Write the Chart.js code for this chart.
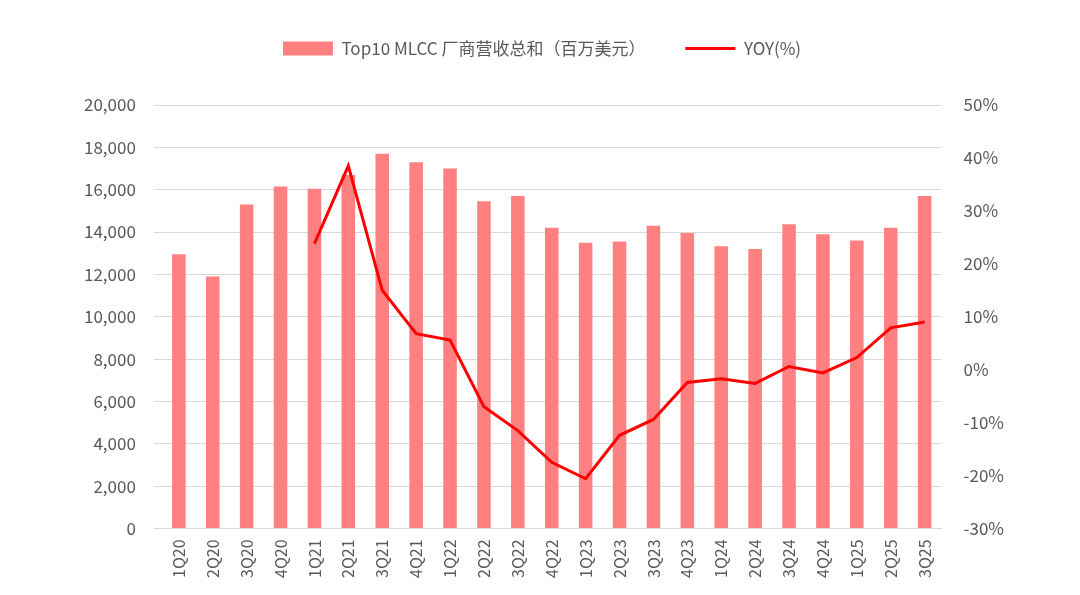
<!DOCTYPE html>
<html><head><meta charset="utf-8">
<script src="https://cdn.jsdelivr.net/npm/chart.js@4"></script>
<style>html,body{margin:0;background:#fff}#w{width:1080px;height:595px}</style>
</head><body><div id="w"><canvas id="c"></canvas></div>
<script>
const categories=["1Q20","2Q20","3Q20","4Q20","1Q21","2Q21","3Q21","4Q21","1Q22","2Q22","3Q22","4Q22","1Q23","2Q23","3Q23","4Q23","1Q24","2Q24","3Q24","4Q24","1Q25","2Q25","3Q25"];
const revenue=[12950,11900,15300,16150,16050,16700,17700,17300,17000,15450,15700,14200,13500,13550,14300,13950,13330,13200,14370,13900,13600,14200,15700];
const yoy=[null,null,null,null,23.8,38.5,15,6.8,5.6,-7,-11.5,-17.5,-20.6,-12.4,-9.4,-2.4,-1.7,-2.6,0.6,-0.6,2.3,7.9,9];
const font="'Noto Sans CJK SC','Liberation Sans',sans-serif";
Chart.defaults.font.family=font;Chart.defaults.color="#595959";
const legendGap={id:'legendGap',beforeInit(chart){const f=chart.legend.fit;chart.legend.fit=function(){f.bind(chart.legend)();this.height+=38;};}};
new Chart(document.getElementById('c'),{
 plugins:[legendGap],
 data:{labels:categories,datasets:[
  {type:'line',label:'YOY(%)',data:yoy,yAxisID:'y1',borderColor:'#ff0000',backgroundColor:'#ff0000',borderWidth:3,pointRadius:0,pointStyle:'line',tension:0,order:0},
  {type:'bar',label:'Top10 MLCC 厂商营收总和（百万美元）',data:revenue,yAxisID:'y',backgroundColor:'#ff8080',pointStyle:'rect',barPercentage:0.4,categoryPercentage:1,order:1}
 ]},
 options:{responsive:true,maintainAspectRatio:false,animation:false,
  layout:{padding:{left:66,right:62,top:0,bottom:14}},
  plugins:{legend:{reverse:true,labels:{font:{size:17},usePointStyle:true,pointStyleWidth:50,boxHeight:14,padding:40,color:'#595959'}},tooltip:{enabled:false}},
  scales:{
   x:{grid:{display:false},border:{display:true,color:'#d9d9d9'},ticks:{maxRotation:90,minRotation:90,font:{size:16},color:'#595959'}},
   y:{min:0,max:20000,ticks:{stepSize:2000,font:{size:17},padding:18,callback:v=>v.toLocaleString('en-US')},grid:{color:'#d9d9d9'},border:{display:false}},
   y1:{position:'right',min:-30,max:50,ticks:{stepSize:10,font:{size:17},padding:14,callback:v=>v+'%'},grid:{display:false},border:{display:false}}
  }}
});
</script></body></html>
